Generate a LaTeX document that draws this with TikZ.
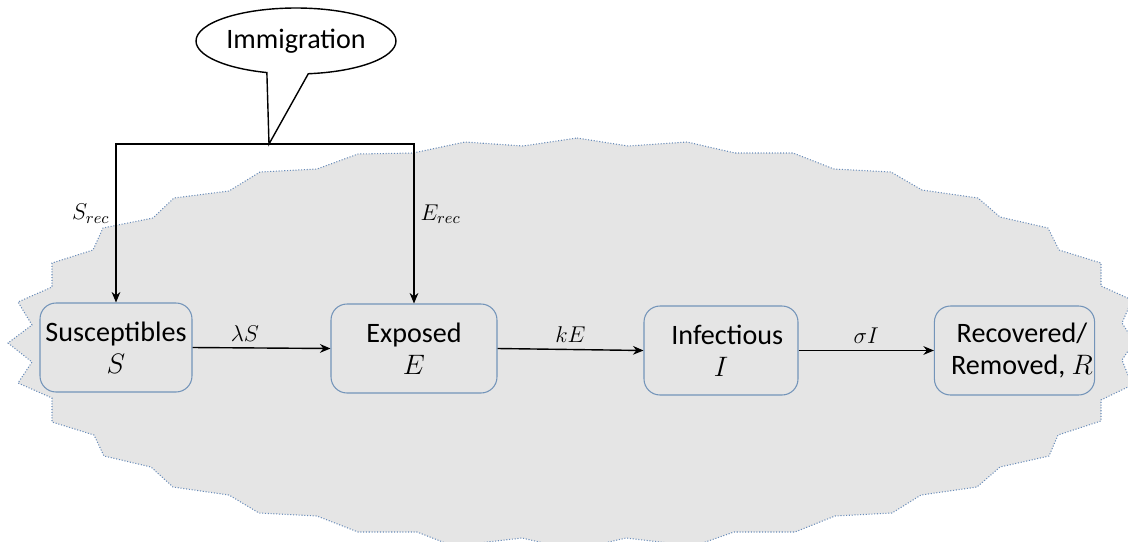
\documentclass[tikz,border=0pt]{standalone}
\usepackage{fix-cm}
\usepackage{fontspec}
\setmainfont{Carlito}
\usetikzlibrary{arrows.meta, shapes.callouts}
\definecolor{cloudgray}{RGB}{229,229,229}
\definecolor{cloudline}{RGB}{105,140,185}
\definecolor{boxline}{RGB}{115,148,185}
\tikzset{
	compartment/.style={draw=boxline, line width=0.6pt, rounded corners=0.32cm,
		minimum height=1.78cm, align=center, inner sep=1pt,
		font=\fontsize{16}{18}\selectfont},
	flow/.style={->, line width=0.8pt},
	rate/.style={font=\fontsize{13}{15}\selectfont},
}

\begin{document}
\begin{tikzpicture}[>={Stealth[length=6pt,width=5pt]}, x=0.02cm, y=-0.02cm]
		\useasboundingbox (0,0) rectangle (1128,541);
		\clip (0,0) rectangle (1128,541);
		% background cloud (population)
		\filldraw[fill=cloudgray, draw=cloudline, densely dotted, line width=0.6pt]
		(577,138) -- (628,146) -- (687,142) -- (735,153) -- (793,153) -- (834,169)
		-- (891,172) -- (922,190) -- (978,198) -- (1000,217) -- (1048,228) -- (1059,250)
		-- (1101,263) -- (1101,286) -- (1132,300) -- (1122,323) -- (1134,342) -- (1122,360)
		-- (1132,385) -- (1101,400) -- (1101,421) -- (1058,435) -- (1049,456) -- (1000,467)
		-- (977,487) -- (921,495) -- (892,513) -- (835,516) -- (795,532) -- (734,532)
		-- (694,546) -- (626,538) -- (574,550) -- (522,538) -- (453,546) -- (417,532)
		-- (358,532) -- (317,516) -- (259,513) -- (229,495) -- (173,487) -- (151,467)
		-- (104,456) -- (94,435) -- (52,422) -- (52,398) -- (18,383) -- (32,362)
		-- (8,343) -- (32,325) -- (18,302) -- (52,287) -- (52,263) -- (93,250)
		-- (103,228) -- (153,218) -- (174,198) -- (229,191) -- (260,172) -- (317,169)
		-- (358,154) -- (413,153) -- (465,142) -- (523,146) -- cycle;
		% compartments
		\node[compartment, minimum width=3.04cm] (sus) at (116,347.5) {Susceptibles\\$S$};
		\node[compartment, minimum width=3.32cm] (exp) at (414,348.5) {Exposed\\$E$};
		\node[compartment, minimum width=3.08cm] (inf) at (721,350.5) {\hspace*{0.25cm}Infectious\\$I$};
		\node[compartment, minimum width=3.14cm] (rem) at (1014.5,350.5) {\hspace*{0.3cm}Recovered/\\\hspace*{0.3cm}Removed, $R$};
		% immigration
		\coordinate (split) at (269,144);
		\node[ellipse callout, draw, line width=0.8pt, minimum width=4cm, minimum height=1.32cm,
			inner sep=0pt, callout absolute pointer={(split)}, callout pointer arc=24,
			font=\fontsize{16}{18}\selectfont] (imm) at (296,41) {Immigration};
		\draw[flow] (split) -| (sus.north) node[rate, left, pos=0.72] {$S_{rec}$};
		\draw[flow] (split) -| (exp.north) node[rate, right, pos=0.72] {$E_{rec}$};
		% transitions
		\draw[flow] (sus.east) -- (exp.west) node[rate, above, pos=0.38] {$\lambda S$};
		\draw[flow] (exp.east) -- (inf.west) node[rate, above, midway] {$kE$};
		\draw[flow] (inf.east) -- (rem.west) node[rate, above, midway] {$\sigma I$};
	\end{tikzpicture}
\end{document}
